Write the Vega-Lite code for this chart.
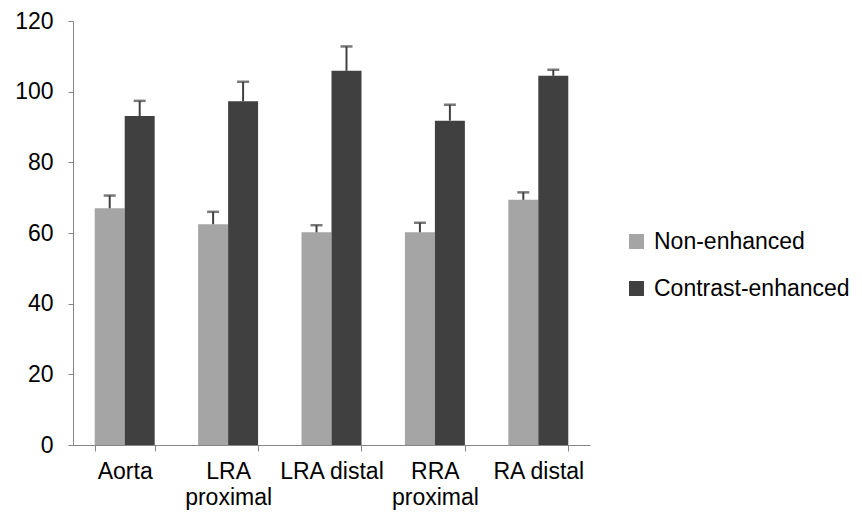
{
  "$schema": "https://vega.github.io/schema/vega-lite/v6.json",
  "autosize": "none",
  "width": 517,
  "height": 424,
  "padding": {"left": 73, "top": 21, "right": 272, "bottom": 77},
  "background": "white",
  "config": {
    "font": "Liberation Sans",
    "view": {"stroke": null}
  },
  "data": {
    "values": [
      {"site": "Aorta", "series": "Non-enhanced", "value": 67.0, "upper": 70.6},
      {"site": "Aorta", "series": "Contrast-enhanced", "value": 93.1, "upper": 97.4},
      {"site": "LRA proximal", "series": "Non-enhanced", "value": 62.5, "upper": 66.0},
      {"site": "LRA proximal", "series": "Contrast-enhanced", "value": 97.3, "upper": 102.8},
      {"site": "LRA distal", "series": "Non-enhanced", "value": 60.2, "upper": 62.2},
      {"site": "LRA distal", "series": "Contrast-enhanced", "value": 105.9, "upper": 112.8},
      {"site": "RRA proximal", "series": "Non-enhanced", "value": 60.2, "upper": 62.9},
      {"site": "RRA proximal", "series": "Contrast-enhanced", "value": 91.8, "upper": 96.3},
      {"site": "RA distal", "series": "Non-enhanced", "value": 69.4, "upper": 71.5},
      {"site": "RA distal", "series": "Contrast-enhanced", "value": 104.5, "upper": 106.2}
    ]
  },
  "encoding": {
    "x": {
      "field": "site",
      "type": "nominal",
      "sort": ["Aorta", "LRA proximal", "LRA distal", "RRA proximal", "RA distal"],
      "scale": {"paddingInner": 0.42, "paddingOuter": 0.21},
      "axis": {
        "title": null,
        "labelAngle": 0,
        "labelFontSize": 23,
        "labelColor": "#000000",
        "labelPadding": 9,
        "labelLineHeight": 26,
        "labelBaseline": "top",
        "labelLimit": 300,
        "tickBand": "extent",
        "tickSize": 6,
        "tickColor": "#868686",
        "domainColor": "#868686",
        "labelExpr": "datum.label == 'LRA proximal' ? ['LRA', 'proximal'] : datum.label == 'RRA proximal' ? ['RRA', 'proximal'] : datum.label"
      }
    },
    "xOffset": {
      "field": "series",
      "type": "nominal",
      "sort": ["Non-enhanced", "Contrast-enhanced"],
      "scale": {"paddingInner": 0, "paddingOuter": 0}
    }
  },
  "layer": [
    {
      "mark": {"type": "bar"},
      "encoding": {
        "y": {
          "field": "value",
          "type": "quantitative",
          "scale": {"domain": [0, 120]},
          "axis": {
            "title": null,
            "values": [0, 20, 40, 60, 80, 100, 120],
            "grid": false,
            "labelFontSize": 23,
            "labelColor": "#000000",
            "labelPadding": 15,
            "tickSize": 5,
            "tickColor": "#868686",
            "domainColor": "#868686"
          }
        },
        "color": {
          "field": "series",
          "type": "nominal",
          "sort": ["Non-enhanced", "Contrast-enhanced"],
          "scale": {"domain": ["Non-enhanced", "Contrast-enhanced"], "range": ["#a5a5a5", "#404040"]},
          "legend": {
            "title": null,
            "orient": "none",
            "legendX": 552,
            "legendY": 209,
            "symbolType": "square",
            "symbolSize": 225,
            "symbolStrokeWidth": 0,
            "labelFontSize": 23,
            "labelLimit": 300,
            "labelColor": "#000000",
            "labelOffset": 6,
            "rowPadding": 23
          }
        }
      }
    },
    {
      "mark": {"type": "rule", "color": "#404040", "strokeWidth": 2},
      "encoding": {
        "y": {"field": "value", "type": "quantitative"},
        "y2": {"field": "upper"}
      }
    },
    {
      "mark": {"type": "tick", "color": "#404040", "thickness": 2.5, "size": 12, "orient": "horizontal"},
      "encoding": {
        "y": {"field": "upper", "type": "quantitative"}
      }
    }
  ]
}
